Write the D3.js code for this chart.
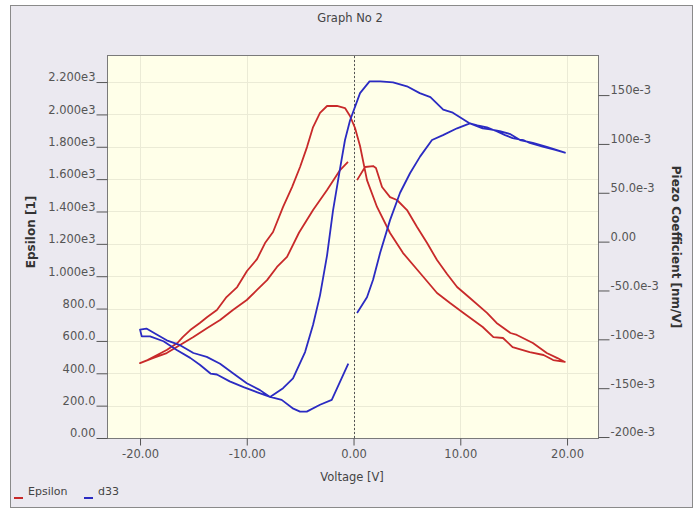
<!DOCTYPE html>
<html>
<head>
<meta charset="utf-8">
<script src="https://cdn.jsdelivr.net/npm/d3@7"></script>
<style>
body { margin: 0; background: #fff; }
text { font-family: "DejaVu Sans", sans-serif; }
</style>
</head>
<body>
<svg id="chart" width="695" height="511"></svg>
<script>
// Epsilon loop (left axis), sweep 0 -> +20 -> -20 -> 0
let epsVolt = [0.33, 1.08, 1.83, 2.1, 2.67, 3.42, 4.07, 5.01, 5.95, 6.89, 7.82, 8.76, 9.70, 10.9, 12.5, 13.4, 14.7, 15.3, 16.8, 18.1, 19.1, 19.8,
	18.7, 17.8, 16.5, 14.9, 14.0, 13.1, 12.1, 10.3, 9.04, 7.82, 6.23, 4.64, 3.42, 2.2, 1.26, 0.61, 0.14, -0.33, -0.8, -1.55, -2.48, -3.14, -3.79, -4.36, -5.01, -5.76, -6.6, -7.54, -8.29, -9.04, -9.98, -10.9, -11.9, -12.8, -13.7, -14.4, -15.3, -16.0, -16.5, -17.5, -18.4, -19.3, -20.0,
	-18.8, -17.5, -16.25, -15.0, -13.7, -12.5, -11.3, -10.0, -9.04, -8.1, -7.17, -6.23, -5.1, -3.79, -2.48, -1.26, -0.52];
let epsValue = [1594, 1675, 1681, 1669, 1551, 1489, 1471, 1409, 1304, 1205, 1100, 1014, 933, 865, 773, 711, 649, 637, 587, 525, 494, 470,
	482, 513, 531, 562, 618, 624, 686, 773, 834, 896, 1020, 1143, 1267, 1428, 1594, 1805, 1916, 1990, 2039, 2052, 2052, 2009, 1922, 1798, 1675, 1551, 1428, 1273, 1205, 1106, 1032, 933, 871, 791, 748, 711, 667, 624, 587, 544, 513, 482, 463,
	494, 525, 575, 624, 680, 729, 791, 853, 915, 976, 1057, 1119, 1270, 1409, 1533, 1656, 1706];

// d33 loop (right axis)
let d33Volt = [0.33, 1.26, 1.83, 2.48, 3.42, 4.36, 5.29, 6.23, 7.35, 8.38, 9.70, 10.9, 11.6, 12.5, 13.4, 14.2, 14.9, 15.9, 16.5, 17.8, 18.9, 19.8,
	18.7, 18.1, 16.8, 15.6, 14.7, 13.7, 12.8, 12.1, 10.9, 9.3, 8.4, 7.2, 6.2, 5.0, 3.7, 2.5, 1.5, 0.61, -0.33, -0.80, -1.26, -1.92, -2.48, -3.14, -3.79, -4.54, -5.67, -6.6, -7.82, -8.76, -10.0, -11.26, -12.5, -13.75, -15.0, -16.25, -17.5, -18.6, -19.4, -20.0,
	-19.84, -19.06, -17.8, -16.56, -15.3, -14.4, -13.4, -12.8, -11.6, -10.3, -9.07, -7.82, -6.73, -5.64, -5.01, -4.38, -3.14, -2.04, -0.49];
let d33Value = [-0.073, -0.057, -0.039, -0.012, 0.022, 0.050, 0.070, 0.087, 0.104, 0.109, 0.116, 0.121, 0.119, 0.117, 0.113, 0.109, 0.106, 0.104, 0.101, 0.097, 0.094, 0.091,
	0.095, 0.097, 0.101, 0.104, 0.110, 0.113, 0.115, 0.116, 0.121, 0.132, 0.135, 0.148, 0.152, 0.159, 0.163, 0.164, 0.164, 0.152, 0.124, 0.104, 0.075, 0.032, -0.014, -0.055, -0.085, -0.113, -0.140, -0.150, -0.159, -0.152, -0.145, -0.135, -0.125, -0.118, -0.114, -0.106, -0.101, -0.094, -0.089, -0.090,
	-0.097, -0.097, -0.102, -0.111, -0.119, -0.126, -0.135, -0.136, -0.143, -0.149, -0.154, -0.159, -0.162, -0.171, -0.174, -0.174, -0.167, -0.162, -0.125];

let xTicks = [-20, -10, 0, 10, 20];
let xTickLabels = ['-20.00', '-10.00', '0.00', '10.00', '20.00'];
let epsTicks = [0, 200, 400, 600, 800, 1000, 1200, 1400, 1600, 1800, 2000, 2200];
let epsTickLabels = ['0.00', '200.0', '400.0', '600.0', '800.0', '1.000e3', '1.200e3', '1.400e3', '1.600e3', '1.800e3', '2.000e3', '2.200e3'];
let d33Ticks = [-0.2, -0.15, -0.1, -0.05, 0, 0.05, 0.1, 0.15];
let d33TickLabels = ['-200e-3', '-150e-3', '-100e-3', '-50.0e-3', '0.00', '50.0e-3', '100e-3', '150e-3'];
let seriesNames = ['Epsilon', 'd33'];
let seriesColors = ['#c82a2a', '#2b2bc2'];

let pLeft = 108, pRight = 598, pTop = 56, pBottom = 438;
let svg = d3.select('#chart');

// outer panel
svg.append('rect').attr('x', 10.5).attr('y', 5.5).attr('width', 682).attr('height', 502)
	.style('fill', '#ebe9f0').style('stroke', '#8a8a8a');

let x = d3.scaleLinear().domain([-23, 22.9]).range([pLeft, pRight]);
let yL = d3.scaleLinear().domain([0, 2361]).range([pBottom, pTop]);
let yR = d3.scaleLinear().domain([-0.201, 0.19]).range([pBottom, pTop]);

// plot background
svg.append('rect').attr('x', pLeft).attr('y', pTop).attr('width', pRight - pLeft).attr('height', pBottom - pTop)
	.style('fill', '#ffffe9');

// gridlines
let grid = svg.append('g').style('stroke', '#ebebd6').style('stroke-width', 1);
grid.selectAll('line.h').data(epsTicks).join('line').attr('class', 'h')
	.attr('x1', pLeft).attr('x2', pRight).attr('y1', d => Math.round(yL(d)) + 0.5).attr('y2', d => Math.round(yL(d)) + 0.5);
grid.selectAll('line.v').data(xTicks).join('line').attr('class', 'v')
	.attr('x1', d => Math.round(x(d)) + 0.5).attr('x2', d => Math.round(x(d)) + 0.5).attr('y1', pTop).attr('y2', pBottom);

// zero line
svg.append('line').attr('x1', Math.round(x(0)) + 0.5).attr('x2', Math.round(x(0)) + 0.5).attr('y1', pTop).attr('y2', pBottom)
	.style('stroke', '#555').style('stroke-dasharray', '2,2');

// curves
let epsPts = epsVolt.map((v, i) => [v, epsValue[i]]);
let d33Pts = d33Volt.map((v, i) => [v, d33Value[i]]);
let epsLine = d3.line().x(d => x(d[0])).y(d => yL(d[1]));
let d33Line = d3.line().x(d => x(d[0])).y(d => yR(d[1]));
svg.append('path').attr('d', epsLine(epsPts))
	.style('fill', 'none').style('stroke', seriesColors[0]).style('stroke-width', 1.8).style('stroke-linejoin', 'round');
svg.append('path').attr('d', d33Line(d33Pts))
	.style('fill', 'none').style('stroke', seriesColors[1]).style('stroke-width', 1.8).style('stroke-linejoin', 'round');

// frame
svg.append('rect').attr('x', pLeft - 0.5).attr('y', pTop - 0.5).attr('width', pRight - pLeft + 1).attr('height', pBottom - pTop + 1)
	.style('fill', 'none').style('stroke', '#7a7a7a');

// axes
let axL = d3.axisLeft(yL).tickValues(epsTicks).tickSize(11).tickPadding(1).tickFormat((d, i) => epsTickLabels[i]);
let axR = d3.axisRight(yR).tickValues(d33Ticks).tickSize(11).tickPadding(1).tickFormat((d, i) => d33TickLabels[i]);
let axB = d3.axisBottom(x).tickValues(xTicks).tickSize(7).tickPadding(4).tickFormat((d, i) => xTickLabels[i]);

function styleAxis(g) {
	g.select('.domain').remove();
	g.selectAll('line').style('stroke', '#555');
	g.selectAll('text').style('font-family', '"DejaVu Sans", sans-serif').style('font-size', '11.5px').style('fill', '#555');
}
svg.append('g').attr('transform', `translate(${pLeft - 0.5},0)`).call(axL).call(styleAxis)
	.selectAll('text').attr('dy', '-0.1em');
svg.append('g').attr('transform', `translate(${pRight + 0.5},0)`).call(axR).call(styleAxis)
	.selectAll('text').attr('dy', '-0.1em');
svg.append('g').attr('transform', `translate(0,${pBottom + 0.5})`).call(axB).call(styleAxis);

// titles
svg.append('text').attr('x', 350).attr('y', 22).attr('text-anchor', 'middle')
	.style('font-size', '11.5px').style('fill', '#444').text('Graph No 2');
svg.append('text').attr('x', 352).attr('y', 481).attr('text-anchor', 'middle')
	.style('font-size', '11.5px').style('fill', '#444').text('Voltage [V]');
svg.append('text').attr('transform', 'translate(35,232) rotate(-90)').attr('text-anchor', 'middle')
	.style('font-size', '12px').style('font-weight', 'bold').style('fill', '#333').text('Epsilon [1]');
svg.append('text').attr('transform', 'translate(672,247) rotate(90)').attr('text-anchor', 'middle')
	.style('font-size', '12px').style('font-weight', 'bold').style('fill', '#333').text('Piezo Coefficient [nm/V]');

// legend
let legX = [14, 84];
let leg = svg.append('g').selectAll('g').data(seriesNames).join('g')
	.attr('transform', (d, i) => `translate(${legX[i]},0)`);
leg.append('line').attr('x1', 0).attr('x2', 9).attr('y1', 498).attr('y2', 498)
	.style('stroke', (d, i) => seriesColors[i]).style('stroke-width', 2);
leg.append('text').attr('x', 14).attr('y', 495).style('font-size', '11px').style('fill', '#444').text(d => d);
</script>
</body>
</html>
